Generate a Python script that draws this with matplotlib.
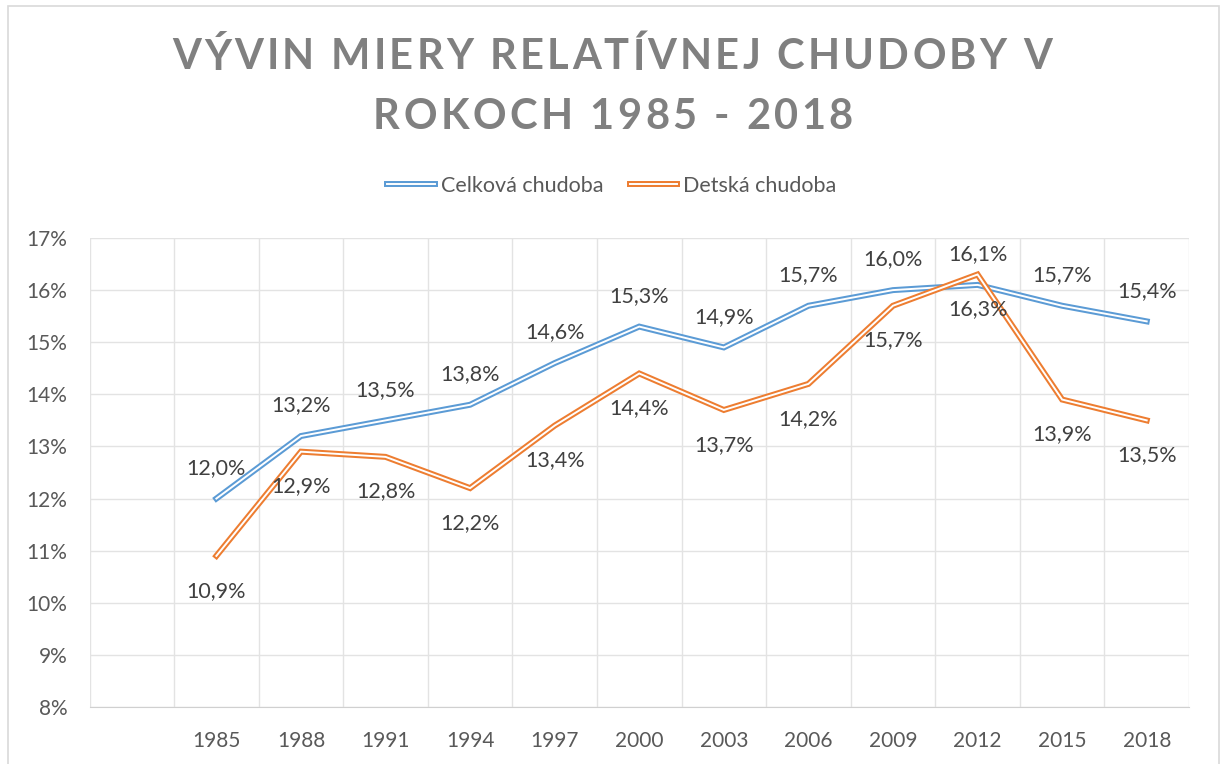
import matplotlib.pyplot as plt
import matplotlib.patheffects as pe
from matplotlib.patches import Rectangle

years = ['1985', '1988', '1991', '1994', '1997', '2000', '2003', '2006',
         '2009', '2012', '2015', '2018']
celkova = [12.0, 13.2, 13.5, 13.8, 14.6, 15.3, 14.9, 15.7, 16.0, 16.1, 15.7, 15.4]
detska = [10.9, 12.9, 12.8, 12.2, 13.4, 14.4, 13.7, 14.2, 15.7, 16.3, 13.9, 13.5]
y_ticks = [8, 9, 10, 11, 12, 13, 14, 15, 16, 17]

plt.rcParams['font.family'] = ['Lato', 'DejaVu Sans']

W, H = 1224, 764
fig = plt.figure(figsize=(W / 100, H / 100), dpi=100)
ax = fig.add_axes([89.5 / W, 1 - 707 / H, (1189 - 89.5) / W, (707 - 238) / H])

# chart border
fig.patches.append(Rectangle((8 / W, -0.05), (1219 - 8) / W, 1 - 6 / H + 0.05,
                             transform=fig.transFigure, fill=False,
                             edgecolor='#d9d9d9', linewidth=1.2))

# first category is empty, years start at position 1
cats = [''] + years
x = list(range(1, len(years) + 1))


def double(color):
    return [pe.Stroke(linewidth=4.3, foreground=color), pe.Normal()]


ax.plot(x, celkova, color='white', linewidth=1.4, label='Celková chudoba',
        path_effects=double('#5B9BD5'), solid_joinstyle='miter', zorder=3)
ax.plot(x, detska, color='white', linewidth=1.4, label='Detská chudoba',
        path_effects=double('#ED7D31'), solid_joinstyle='miter', zorder=4)

for xi, v in zip(x, celkova):
    ax.annotate(f'{v:.1f}'.replace('.', ',') + '%', (xi, v), xytext=(0, 22),
                textcoords='offset points', ha='center', va='center',
                fontsize=15.5, color='#404040', zorder=5)
for xi, v in zip(x, detska):
    ax.annotate(f'{v:.1f}'.replace('.', ',') + '%', (xi, v), xytext=(0, -25),
                textcoords='offset points', ha='center', va='center',
                fontsize=15.5, color='#404040', zorder=5)

ax.set_xlim(-0.5, len(cats) - 0.5)
ax.set_ylim(8, 17)
ax.set_xticks(range(len(cats)))
ax.set_xticklabels(cats)
ax.set_xticks([i - 0.5 for i in range(len(cats) + 1)], minor=True)
ax.set_yticks(y_ticks)
ax.set_yticklabels([f'{t}%' for t in y_ticks])

ax.grid(True, which='major', axis='y', color='#e3e3e3', linewidth=1.0)
ax.grid(True, which='minor', axis='x', color='#e3e3e3', linewidth=1.0)
ax.set_axisbelow(True)
ax.tick_params(which='both', length=0)
ax.tick_params(axis='x', pad=17, labelsize=15, labelcolor='#595959')
ax.tick_params(axis='y', pad=16, labelsize=15, labelcolor='#595959')
for s in ['top', 'right', 'left']:
    ax.spines[s].set_visible(False)
ax.spines['bottom'].set_color('#d0d0d0')

# title with letter spacing: place characters one by one
renderer = fig.canvas.get_renderer()
tprops = dict(fontsize=30, fontweight='bold', color='#808080', va='center')


def text_width(s):
    t = fig.text(0, 0, s + 'X', **tprops)
    w = t.get_window_extent(renderer).width
    t.remove()
    return w


def spaced_title(s, yc, x0, x1):
    wx = text_width('')
    pref = [text_width(s[:i]) - wx for i in range(len(s) + 1)]
    track = ((x1 - x0) - pref[-1]) / (len(s) - 1)
    for i, ch in enumerate(s):
        if ch != ' ':
            fig.text((x0 + pref[i] + i * track) / W, 1 - yc / H, ch, ha='left', **tprops)


spaced_title('VÝVIN MIERY RELATÍVNEJ CHUDOBY V', 57, 172, 1052)
spaced_title('ROKOCH 1985 - 2018', 117, 373, 853)

fig.legend(loc='center', bbox_to_anchor=(0.5, 1 - 186 / H), ncol=2, frameon=False,
           fontsize=15.5, labelcolor='#595959', handlelength=2.2, handletextpad=0.3,
           columnspacing=1.2)

fig.savefig('out.png', dpi=100)
